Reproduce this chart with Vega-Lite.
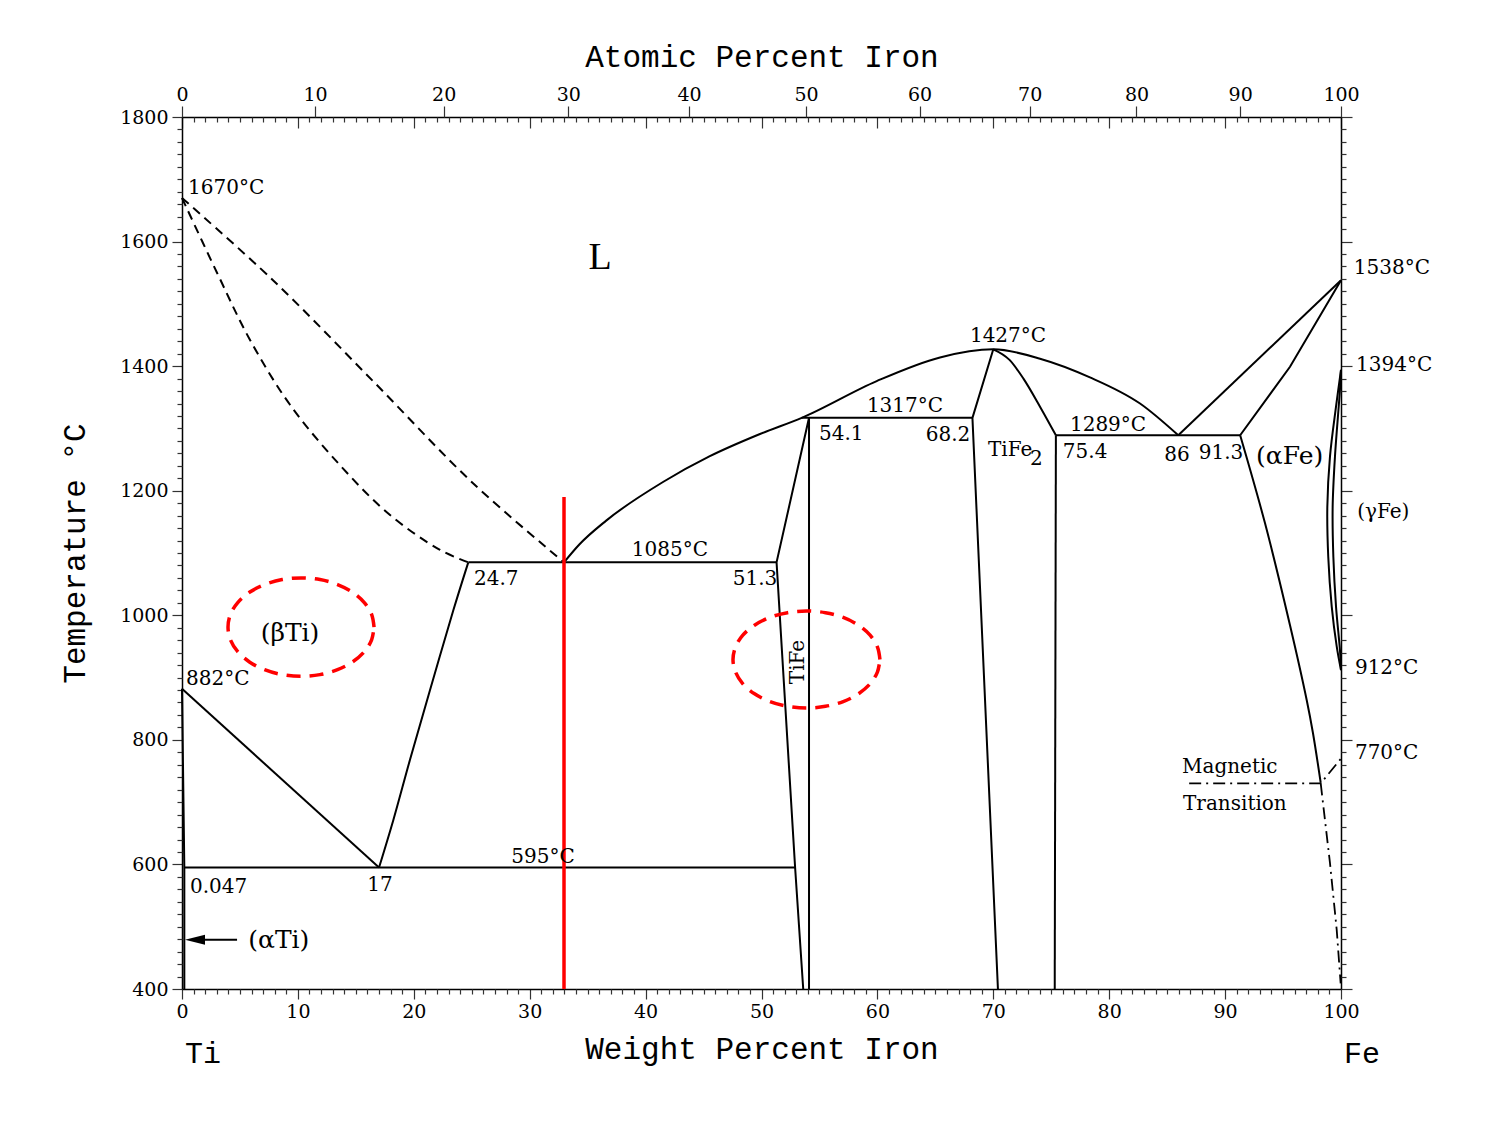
{
  "$schema": "https://vega.github.io/schema/vega-lite/v6.json",
  "width": 1159,
  "height": 872,
  "autosize": "none",
  "padding": {"left": 182, "top": 117, "right": 164, "bottom": 134},
  "background": "white",
  "config": {
    "view": {"stroke": null},
    "axis": {
      "labelFont": "DejaVu Serif", "labelFontSize": 19, "labelColor": "#000",
      "titleFont": "Liberation Mono", "titleFontSize": 31, "titleFontWeight": "normal", "titleColor": "#000",
      "domainColor": "#000", "domainWidth": 1.5, "tickColor": "#333", "tickWidth": 1.2, "grid": false
    },
    "text": {"font": "DejaVu Serif", "color": "#000"}
  },
  "datasets": {
    "solid": [
      {"id": "bTi_solvus", "ord": 0, "wt": 0, "T": 882}, {"id": "bTi_solvus", "ord": 1, "wt": 17, "T": 595},
      {"id": "aTi", "ord": 0, "wt": 0, "T": 882}, {"id": "aTi", "ord": 1, "wt": 0.2, "T": 595}, {"id": "aTi", "ord": 2, "wt": 0.2, "T": 400},
      {"id": "eutectoid595", "ord": 0, "wt": 0.2, "T": 595}, {"id": "eutectoid595", "ord": 1, "wt": 52.9, "T": 595},
      {"id": "eutectic1085", "ord": 0, "wt": 24.7, "T": 1085}, {"id": "eutectic1085", "ord": 1, "wt": 51.3, "T": 1085},
      {"id": "TiFe_left", "ord": 0, "wt": 54.1, "T": 1317}, {"id": "TiFe_left", "ord": 1, "wt": 51.3, "T": 1085}, {"id": "TiFe_left", "ord": 2, "wt": 52.9, "T": 595}, {"id": "TiFe_left", "ord": 3, "wt": 53.6, "T": 400},
      {"id": "TiFe_right", "ord": 0, "wt": 54.1, "T": 1317}, {"id": "TiFe_right", "ord": 1, "wt": 54.1, "T": 400},
      {"id": "peritectic1317", "ord": 0, "wt": 53.47, "T": 1317}, {"id": "peritectic1317", "ord": 1, "wt": 68.2, "T": 1317},
      {"id": "TiFe2_left", "ord": 0, "wt": 70.0, "T": 1427}, {"id": "TiFe2_left", "ord": 1, "wt": 68.2, "T": 1317}, {"id": "TiFe2_left", "ord": 2, "wt": 70.4, "T": 400},
      {"id": "TiFe2_right", "ord": 0, "wt": 75.4, "T": 1289}, {"id": "TiFe2_right", "ord": 1, "wt": 75.3, "T": 400},
      {"id": "eutectic1289", "ord": 0, "wt": 75.4, "T": 1289}, {"id": "eutectic1289", "ord": 1, "wt": 91.3, "T": 1289},
      {"id": "liq_Fe", "ord": 0, "wt": 85.96, "T": 1289}, {"id": "liq_Fe", "ord": 1, "wt": 100, "T": 1538},
      {"id": "sol_Fe", "ord": 0, "wt": 91.3, "T": 1289}, {"id": "sol_Fe", "ord": 1, "wt": 95.6, "T": 1399}, {"id": "sol_Fe", "ord": 2, "wt": 100, "T": 1538},
      {"id": "arrow", "ord": 0, "wt": 1.98, "T": 479}, {"id": "arrow", "ord": 1, "wt": 4.75, "T": 479}
    ],
    "curves": [
      {"id": "bTi_TiFe", "ord": 0, "wt": 17, "T": 595}, {"id": "bTi_TiFe", "ord": 1, "wt": 18.23, "T": 671}, {"id": "bTi_TiFe", "ord": 2, "wt": 19.67, "T": 768}, {"id": "bTi_TiFe", "ord": 3, "wt": 21.4, "T": 880}, {"id": "bTi_TiFe", "ord": 4, "wt": 23.41, "T": 1008}, {"id": "bTi_TiFe", "ord": 5, "wt": 24.7, "T": 1085},
      {"id": "aFe_solvus", "ord": 0, "wt": 91.3, "T": 1289}, {"id": "aFe_solvus", "ord": 1, "wt": 93.44, "T": 1148}, {"id": "aFe_solvus", "ord": 2, "wt": 95.6, "T": 984}, {"id": "aFe_solvus", "ord": 3, "wt": 97.04, "T": 864}, {"id": "aFe_solvus", "ord": 4, "wt": 97.58, "T": 811}, {"id": "aFe_solvus", "ord": 5, "wt": 98.25, "T": 731},
      {"id": "gFe_outer", "ord": 0, "wt": 100, "T": 1394}, {"id": "gFe_outer", "ord": 1, "wt": 99.57, "T": 1335}, {"id": "gFe_outer", "ord": 2, "wt": 99.05, "T": 1255}, {"id": "gFe_outer", "ord": 3, "wt": 98.82, "T": 1174}, {"id": "gFe_outer", "ord": 4, "wt": 98.9, "T": 1094}, {"id": "gFe_outer", "ord": 5, "wt": 99.2, "T": 1014}, {"id": "gFe_outer", "ord": 6, "wt": 99.63, "T": 950}, {"id": "gFe_outer", "ord": 7, "wt": 100, "T": 912},
      {"id": "gFe_inner", "ord": 0, "wt": 100, "T": 1394}, {"id": "gFe_inner", "ord": 1, "wt": 99.91, "T": 1362}, {"id": "gFe_inner", "ord": 2, "wt": 99.48, "T": 1255}, {"id": "gFe_inner", "ord": 3, "wt": 99.28, "T": 1174}, {"id": "gFe_inner", "ord": 4, "wt": 99.34, "T": 1094}, {"id": "gFe_inner", "ord": 5, "wt": 99.57, "T": 1014}, {"id": "gFe_inner", "ord": 6, "wt": 99.91, "T": 944}, {"id": "gFe_inner", "ord": 7, "wt": 100, "T": 912}
    ],
    "curves_mono": [
      {"id": "liquidus", "ord": 0, "wt": 32.96, "T": 1085}, {"id": "liquidus", "ord": 1, "wt": 34.3, "T": 1114}, {"id": "liquidus", "ord": 2, "wt": 36.6, "T": 1152}, {"id": "liquidus", "ord": 3, "wt": 41.5, "T": 1214}, {"id": "liquidus", "ord": 4, "wt": 45.5, "T": 1255}, {"id": "liquidus", "ord": 5, "wt": 49.87, "T": 1291}, {"id": "liquidus", "ord": 6, "wt": 53.47, "T": 1317}, {"id": "liquidus", "ord": 7, "wt": 59.94, "T": 1376}, {"id": "liquidus", "ord": 8, "wt": 65.4, "T": 1414}, {"id": "liquidus", "ord": 9, "wt": 70.0, "T": 1427}, {"id": "liquidus", "ord": 10, "wt": 74.03, "T": 1412}, {"id": "liquidus", "ord": 11, "wt": 78.34, "T": 1382}, {"id": "liquidus", "ord": 12, "wt": 82.66, "T": 1340}, {"id": "liquidus", "ord": 13, "wt": 85.96, "T": 1289},
      {"id": "TiFe2_top", "ord": 0, "wt": 70.0, "T": 1427}, {"id": "TiFe2_top", "ord": 1, "wt": 71.4, "T": 1410}, {"id": "TiFe2_top", "ord": 2, "wt": 72.6, "T": 1380}, {"id": "TiFe2_top", "ord": 3, "wt": 74.03, "T": 1335}, {"id": "TiFe2_top", "ord": 4, "wt": 75.4, "T": 1289}
    ],
    "dashed": [
      {"id": "liq_Ti", "ord": 0, "wt": 0, "T": 1670}, {"id": "liq_Ti", "ord": 1, "wt": 7.85, "T": 1538}, {"id": "liq_Ti", "ord": 2, "wt": 16.48, "T": 1376}, {"id": "liq_Ti", "ord": 3, "wt": 25.11, "T": 1212}, {"id": "liq_Ti", "ord": 4, "wt": 32.96, "T": 1085},
      {"id": "sol_Ti", "ord": 0, "wt": 0, "T": 1670}, {"id": "sol_Ti", "ord": 1, "wt": 3.02, "T": 1550}, {"id": "sol_Ti", "ord": 2, "wt": 5.87, "T": 1442}, {"id": "sol_Ti", "ord": 3, "wt": 9.32, "T": 1338}, {"id": "sol_Ti", "ord": 4, "wt": 13.63, "T": 1241}, {"id": "sol_Ti", "ord": 5, "wt": 17.95, "T": 1161}, {"id": "sol_Ti", "ord": 6, "wt": 22.26, "T": 1105}, {"id": "sol_Ti", "ord": 7, "wt": 24.7, "T": 1085}
    ],
    "dashdot": [
      {"id": "curie", "ord": 0, "wt": 86.9, "T": 730}, {"id": "curie", "ord": 1, "wt": 98.25, "T": 730}, {"id": "curie", "ord": 2, "wt": 100, "T": 770},
      {"id": "curie_solvus", "ord": 0, "wt": 98.25, "T": 730}, {"id": "curie_solvus", "ord": 1, "wt": 99.05, "T": 602}, {"id": "curie_solvus", "ord": 2, "wt": 99.63, "T": 495}, {"id": "curie_solvus", "ord": 3, "wt": 99.97, "T": 409}
    ],
    "red_line": [
      {"id": "composition", "ord": 0, "wt": 32.96, "T": 1190}, {"id": "composition", "ord": 1, "wt": 32.96, "T": 400}
    ],
    "ellipses": [
      {"id": "e1", "ord": 0, "wt": 16.57, "T": 981}, {"id": "e1", "ord": 1, "wt": 16.36, "T": 1001.5}, {"id": "e1", "ord": 2, "wt": 15.73, "T": 1020.5}, {"id": "e1", "ord": 3, "wt": 14.72, "T": 1036.9}, {"id": "e1", "ord": 4, "wt": 13.42, "T": 1049.4}, {"id": "e1", "ord": 5, "wt": 11.9, "T": 1057.3}, {"id": "e1", "ord": 6, "wt": 10.27, "T": 1060}, {"id": "e1", "ord": 7, "wt": 8.64, "T": 1057.3}, {"id": "e1", "ord": 8, "wt": 7.12, "T": 1049.4}, {"id": "e1", "ord": 9, "wt": 5.82, "T": 1036.9}, {"id": "e1", "ord": 10, "wt": 4.81, "T": 1020.5}, {"id": "e1", "ord": 11, "wt": 4.18, "T": 1001.5}, {"id": "e1", "ord": 12, "wt": 3.97, "T": 981}, {"id": "e1", "ord": 13, "wt": 4.18, "T": 960.5}, {"id": "e1", "ord": 14, "wt": 4.81, "T": 941.5}, {"id": "e1", "ord": 15, "wt": 5.82, "T": 925.1}, {"id": "e1", "ord": 16, "wt": 7.12, "T": 912.6}, {"id": "e1", "ord": 17, "wt": 8.64, "T": 904.7}, {"id": "e1", "ord": 18, "wt": 10.27, "T": 902}, {"id": "e1", "ord": 19, "wt": 11.9, "T": 904.7}, {"id": "e1", "ord": 20, "wt": 13.42, "T": 912.6}, {"id": "e1", "ord": 21, "wt": 14.72, "T": 925.1}, {"id": "e1", "ord": 22, "wt": 15.73, "T": 941.5}, {"id": "e1", "ord": 23, "wt": 16.36, "T": 960.5}, {"id": "e1", "ord": 24, "wt": 16.57, "T": 981},
      {"id": "e2", "ord": 0, "wt": 60.22, "T": 929}, {"id": "e2", "ord": 1, "wt": 60.0, "T": 949.2}, {"id": "e2", "ord": 2, "wt": 59.37, "T": 968}, {"id": "e2", "ord": 3, "wt": 58.36, "T": 984.1}, {"id": "e2", "ord": 4, "wt": 57.05, "T": 996.5}, {"id": "e2", "ord": 5, "wt": 55.52, "T": 1004.2}, {"id": "e2", "ord": 6, "wt": 53.88, "T": 1006.9}, {"id": "e2", "ord": 7, "wt": 52.24, "T": 1004.2}, {"id": "e2", "ord": 8, "wt": 50.71, "T": 996.5}, {"id": "e2", "ord": 9, "wt": 49.4, "T": 984.1}, {"id": "e2", "ord": 10, "wt": 48.39, "T": 968}, {"id": "e2", "ord": 11, "wt": 47.76, "T": 949.2}, {"id": "e2", "ord": 12, "wt": 47.54, "T": 929}, {"id": "e2", "ord": 13, "wt": 47.76, "T": 908.8}, {"id": "e2", "ord": 14, "wt": 48.39, "T": 890}, {"id": "e2", "ord": 15, "wt": 49.4, "T": 873.9}, {"id": "e2", "ord": 16, "wt": 50.71, "T": 861.5}, {"id": "e2", "ord": 17, "wt": 52.24, "T": 853.8}, {"id": "e2", "ord": 18, "wt": 53.88, "T": 851.1}, {"id": "e2", "ord": 19, "wt": 55.52, "T": 853.8}, {"id": "e2", "ord": 20, "wt": 57.05, "T": 861.5}, {"id": "e2", "ord": 21, "wt": 58.36, "T": 873.9}, {"id": "e2", "ord": 22, "wt": 59.37, "T": 890}, {"id": "e2", "ord": 23, "wt": 60.0, "T": 908.8}, {"id": "e2", "ord": 24, "wt": 60.22, "T": 929}
    ],
    "arrow_head": [{"wt": 1.12, "T": 479}],
    "lbl_left": [
      {"label": "1670°C", "wt": 0.52, "T": 1686},
      {"label": "1538°C", "wt": 101.1, "T": 1558},
      {"label": "1394°C", "wt": 101.3, "T": 1402},
      {"label": "54.1", "wt": 54.96, "T": 1291},
      {"label": "TiFe", "wt": 69.54, "T": 1264.6},
      {"label": "2", "wt": 73.17, "T": 1251},
      {"label": "75.4", "wt": 76.0, "T": 1262},
      {"label": "(γFe)", "wt": 101.4, "T": 1166},
      {"label": "912°C", "wt": 101.2, "T": 915},
      {"label": "770°C", "wt": 101.2, "T": 779},
      {"label": "24.7", "wt": 25.19, "T": 1058},
      {"label": "882°C", "wt": 0.35, "T": 898},
      {"label": "0.047", "wt": 0.69, "T": 564},
      {"label": "Magnetic", "wt": 86.28, "T": 756},
      {"label": "Transition", "wt": 86.37, "T": 697}
    ],
    "lbl_center": [
      {"label": "1427°C", "wt": 71.27, "T": 1448},
      {"label": "1317°C", "wt": 62.38, "T": 1336},
      {"label": "1289°C", "wt": 79.9, "T": 1305},
      {"label": "68.2", "wt": 66.09, "T": 1289},
      {"label": "86", "wt": 85.85, "T": 1257},
      {"label": "91.3", "wt": 89.65, "T": 1261},
      {"label": "1085°C", "wt": 42.1, "T": 1105},
      {"label": "51.3", "wt": 49.44, "T": 1058},
      {"label": "595°C", "wt": 31.15, "T": 612},
      {"label": "17", "wt": 17.08, "T": 567}
    ],
    "phase_left": [
      {"label": "(αFe)", "wt": 92.67, "T": 1256},
      {"label": "(αTi)", "wt": 5.72, "T": 479}
    ],
    "phase_center": [
      {"label": "(βTi)", "wt": 9.32, "T": 972}
    ],
    "liquid": [{"label": "L", "wt": 36.07, "T": 1574}],
    "tife": [{"label": "TiFe", "wt": 53.15, "T": 925}],
    "elements": [
      {"label": "Ti", "wt": 0.26, "T": 296},
      {"label": "Fe", "wt": 100.26, "T": 296}
    ]
  },
  "resolve": {"scale": {"x": "shared", "y": "shared"}, "axis": {"x": "independent", "y": "independent"}},
  "layer": [
    {
      "data": {"name": "solid"},
      "mark": {"type": "line", "color": "#000", "strokeWidth": 2},
      "encoding": {
        "x": {"field": "wt", "type": "quantitative", "scale": {"domain": [0, 100], "nice": false, "zero": false},
          "axis": {"orient": "bottom", "values": [0, 10, 20, 30, 40, 50, 60, 70, 80, 90, 100], "tickSize": 10, "labelFlush": false, "labelPadding": 3, "labelOverlap": false, "title": "Weight Percent Iron", "titlePadding": 13}},
        "y": {"field": "T", "type": "quantitative", "scale": {"domain": [400, 1800], "nice": false, "zero": false},
          "axis": {"orient": "left", "values": [400, 600, 800, 1000, 1200, 1400, 1600, 1800], "format": "d", "tickSize": 10, "labelPadding": 4, "labelFlush": false, "labelOverlap": false, "title": "Temperature °C", "titlePadding": 28}},
        "detail": {"field": "id"},
        "order": {"field": "ord", "type": "quantitative"}
      }
    },
    {
      "data": {"name": "curves"},
      "mark": {"type": "line", "color": "#000", "strokeWidth": 2, "interpolate": "catmull-rom"},
      "encoding": {
        "x": {"field": "wt", "type": "quantitative", "scale": {"domain": [0, 100], "nice": false, "zero": false},
          "axis": {"orient": "bottom", "values": [1,2,3,4,5,6,7,8,9,11,12,13,14,15,16,17,18,19,21,22,23,24,25,26,27,28,29,31,32,33,34,35,36,37,38,39,41,42,43,44,45,46,47,48,49,51,52,53,54,55,56,57,58,59,61,62,63,64,65,66,67,68,69,71,72,73,74,75,76,77,78,79,81,82,83,84,85,86,87,88,89,91,92,93,94,95,96,97,98,99], "tickSize": 5, "labels": false, "domain": false, "title": null}},
        "y": {"field": "T", "type": "quantitative", "scale": {"domain": [400, 1800], "nice": false, "zero": false},
          "axis": {"orient": "left", "values": [420,440,460,480,500,520,540,560,580,620,640,660,680,700,720,740,760,780,820,840,860,880,900,920,940,960,980,1020,1040,1060,1080,1100,1120,1140,1160,1180,1220,1240,1260,1280,1300,1320,1340,1360,1380,1420,1440,1460,1480,1500,1520,1540,1560,1580,1620,1640,1660,1680,1700,1720,1740,1760,1780], "tickSize": 5, "labels": false, "domain": false, "title": null}},
        "detail": {"field": "id"},
        "order": {"field": "ord", "type": "quantitative"}
      }
    },
    {
      "data": {"name": "curves_mono"},
      "mark": {"type": "line", "color": "#000", "strokeWidth": 2, "interpolate": "monotone"},
      "encoding": {
        "x": {"field": "wt", "type": "quantitative", "scale": {"domain": [0, 100], "nice": false, "zero": false}, "axis": null},
        "y": {"field": "T", "type": "quantitative", "scale": {"domain": [400, 1800], "nice": false, "zero": false}, "axis": null},
        "detail": {"field": "id"},
        "order": {"field": "ord", "type": "quantitative"}
      }
    },
    {
      "data": {"name": "dashed"},
      "mark": {"type": "line", "color": "#000", "strokeWidth": 2, "strokeDash": [9, 6], "interpolate": "catmull-rom"},
      "encoding": {
        "x": {"field": "wt", "type": "quantitative", "scale": {"domain": [0, 100], "nice": false, "zero": false},
          "axis": {"orient": "top", "values": [0, 10, 20, 30, 40, 50, 60, 70, 80, 90, 100], "tickSize": -11, "labels": false, "domain": true, "title": null}},
        "y": {"field": "T", "type": "quantitative", "scale": {"domain": [400, 1800], "nice": false, "zero": false},
          "axis": {"orient": "right", "values": [400, 600, 800, 1000, 1200, 1400, 1600, 1800], "tickSize": 11, "labels": false, "domain": true, "title": null}},
        "detail": {"field": "id"},
        "order": {"field": "ord", "type": "quantitative"}
      }
    },
    {
      "data": {"name": "dashdot"},
      "mark": {"type": "line", "color": "#000", "strokeWidth": 1.8, "strokeDash": [12, 5, 2, 5]},
      "encoding": {
        "x": {"field": "wt", "type": "quantitative", "scale": {"domain": [0, 100], "nice": false, "zero": false},
          "axis": {"orient": "top", "values": [1,2,3,4,5,6,7,8,9,11,12,13,14,15,16,17,18,19,21,22,23,24,25,26,27,28,29,31,32,33,34,35,36,37,38,39,41,42,43,44,45,46,47,48,49,51,52,53,54,55,56,57,58,59,61,62,63,64,65,66,67,68,69,71,72,73,74,75,76,77,78,79,81,82,83,84,85,86,87,88,89,91,92,93,94,95,96,97,98,99], "tickSize": -5, "labels": false, "domain": false, "title": null}},
        "y": {"field": "T", "type": "quantitative", "scale": {"domain": [400, 1800], "nice": false, "zero": false},
          "axis": {"orient": "right", "values": [420,440,460,480,500,520,540,560,580,620,640,660,680,700,720,740,760,780,820,840,860,880,900,920,940,960,980,1020,1040,1060,1080,1100,1120,1140,1160,1180,1220,1240,1260,1280,1300,1320,1340,1360,1380,1420,1440,1460,1480,1500,1520,1540,1560,1580,1620,1640,1660,1680,1700,1720,1740,1760,1780], "tickSize": 5, "labels": false, "domain": false, "title": null}},
        "detail": {"field": "id"},
        "order": {"field": "ord", "type": "quantitative"}
      }
    },
    {
      "data": {"name": "ellipses"},
      "mark": {"type": "line", "color": "#ff0000", "strokeWidth": 3.5, "strokeDash": [14, 9], "interpolate": "catmull-rom"},
      "encoding": {
        "x": {"field": "wt", "type": "quantitative", "scale": {"domain": [0, 100], "nice": false, "zero": false}, "axis": null},
        "y": {"field": "T", "type": "quantitative", "scale": {"domain": [400, 1800], "nice": false, "zero": false}, "axis": null},
        "detail": {"field": "id"},
        "order": {"field": "ord", "type": "quantitative"}
      }
    },
    {
      "data": {"name": "red_line"},
      "mark": {"type": "line", "color": "#ff0000", "strokeWidth": 3.5},
      "encoding": {
        "x": {"field": "wt", "type": "quantitative", "scale": {"domain": [0, 100], "nice": false, "zero": false},
          "axis": {"orient": "top", "values": [0, 11.475, 22.581, 33.333, 43.75, 53.846, 63.636, 73.135, 82.353, 91.304, 100], "tickSize": 11, "labelFlush": false, "labelOverlap": false, "labelPadding": 2, "domain": false, "title": "Atomic Percent Iron", "titlePadding": 12,
            "labelExpr": "datum.value < 5 ? '0' : datum.value < 17 ? '10' : datum.value < 28 ? '20' : datum.value < 38 ? '30' : datum.value < 48 ? '40' : datum.value < 58 ? '50' : datum.value < 68 ? '60' : datum.value < 78 ? '70' : datum.value < 87 ? '80' : datum.value < 95 ? '90' : '100'"}},
        "y": {"field": "T", "type": "quantitative", "scale": {"domain": [400, 1800], "nice": false, "zero": false}, "axis": null},
        "detail": {"field": "id"},
        "order": {"field": "ord", "type": "quantitative"}
      }
    },
    {
      "data": {"name": "arrow_head"},
      "mark": {"type": "point", "shape": "M -1 0 L 1 -0.5 L 1 0.5 Z", "size": 400, "filled": true, "color": "#000", "opacity": 1},
      "encoding": {
        "x": {"field": "wt", "type": "quantitative", "scale": {"domain": [0, 100], "nice": false, "zero": false}, "axis": null},
        "y": {"field": "T", "type": "quantitative", "scale": {"domain": [400, 1800], "nice": false, "zero": false}, "axis": null}
      }
    },
    {
      "data": {"name": "lbl_left"},
      "mark": {"type": "text", "align": "left", "baseline": "middle", "fontSize": 20, "font": "DejaVu Serif"},
      "encoding": {
        "x": {"field": "wt", "type": "quantitative", "scale": {"domain": [0, 100], "nice": false, "zero": false}, "axis": null},
        "y": {"field": "T", "type": "quantitative", "scale": {"domain": [400, 1800], "nice": false, "zero": false}, "axis": null},
        "text": {"field": "label"}
      }
    },
    {
      "data": {"name": "lbl_center"},
      "mark": {"type": "text", "align": "center", "baseline": "middle", "fontSize": 20, "font": "DejaVu Serif"},
      "encoding": {
        "x": {"field": "wt", "type": "quantitative", "scale": {"domain": [0, 100], "nice": false, "zero": false}, "axis": null},
        "y": {"field": "T", "type": "quantitative", "scale": {"domain": [400, 1800], "nice": false, "zero": false}, "axis": null},
        "text": {"field": "label"}
      }
    },
    {
      "data": {"name": "phase_left"},
      "mark": {"type": "text", "align": "left", "baseline": "middle", "fontSize": 25, "font": "DejaVu Serif"},
      "encoding": {
        "x": {"field": "wt", "type": "quantitative", "scale": {"domain": [0, 100], "nice": false, "zero": false}, "axis": null},
        "y": {"field": "T", "type": "quantitative", "scale": {"domain": [400, 1800], "nice": false, "zero": false}, "axis": null},
        "text": {"field": "label"}
      }
    },
    {
      "data": {"name": "phase_center"},
      "mark": {"type": "text", "align": "center", "baseline": "middle", "fontSize": 25, "font": "DejaVu Serif"},
      "encoding": {
        "x": {"field": "wt", "type": "quantitative", "scale": {"domain": [0, 100], "nice": false, "zero": false}, "axis": null},
        "y": {"field": "T", "type": "quantitative", "scale": {"domain": [400, 1800], "nice": false, "zero": false}, "axis": null},
        "text": {"field": "label"}
      }
    },
    {
      "data": {"name": "liquid"},
      "mark": {"type": "text", "align": "center", "baseline": "middle", "fontSize": 38, "font": "Liberation Serif"},
      "encoding": {
        "x": {"field": "wt", "type": "quantitative", "scale": {"domain": [0, 100], "nice": false, "zero": false}, "axis": null},
        "y": {"field": "T", "type": "quantitative", "scale": {"domain": [400, 1800], "nice": false, "zero": false}, "axis": null},
        "text": {"field": "label"}
      }
    },
    {
      "data": {"name": "tife"},
      "mark": {"type": "text", "align": "center", "baseline": "middle", "fontSize": 20, "font": "DejaVu Serif", "angle": 270},
      "encoding": {
        "x": {"field": "wt", "type": "quantitative", "scale": {"domain": [0, 100], "nice": false, "zero": false}, "axis": null},
        "y": {"field": "T", "type": "quantitative", "scale": {"domain": [400, 1800], "nice": false, "zero": false}, "axis": null},
        "text": {"field": "label"}
      }
    },
    {
      "data": {"name": "elements"},
      "mark": {"type": "text", "align": "left", "baseline": "middle", "fontSize": 30, "font": "Liberation Mono"},
      "encoding": {
        "x": {"field": "wt", "type": "quantitative", "scale": {"domain": [0, 100], "nice": false, "zero": false}, "axis": null},
        "y": {"field": "T", "type": "quantitative", "scale": {"domain": [400, 1800], "nice": false, "zero": false}, "axis": null},
        "text": {"field": "label"}
      }
    }
  ]
}
